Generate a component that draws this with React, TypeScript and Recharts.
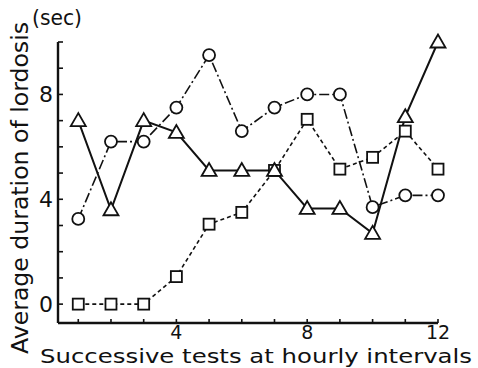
import React from 'react';
import { LineChart, Line, XAxis, YAxis, Label } from 'recharts';

const tests = [1, 2, 3, 4, 5, 6, 7, 8, 9, 10, 11, 12];
const triangleSeries = [7.0, 3.6, 7.0, 6.55, 5.1, 5.1, 5.1, 3.65, 3.65, 2.7, 7.15, 10.0];
const circleSeries = [3.25, 6.2, 6.2, 7.5, 9.5, 6.6, 7.5, 8.0, 8.0, 3.7, 4.15, 4.15];
const squareSeries = [0, 0, 0, 1.05, 3.05, 3.5, 5.1, 7.05, 5.15, 5.6, 6.6, 5.15];

const xTicks = [1, 2, 3, 4, 5, 6, 7, 8, 9, 10, 11, 12];
const xTickLabels = [4, 8, 12];
const yTicks = [0, 1, 2, 3, 4, 5, 6, 7, 8, 9, 10];
const yTickLabels = [0, 4, 8];

const xTitle = 'Successive tests at hourly intervals';
const yTitle = 'Average duration of lordosis';
const unitLabel = '(sec)';

const data = tests.map((t, i) => ({
  t,
  tri: triangleSeries[i],
  circ: circleSeries[i],
  sq: squareSeries[i],
}));

const FONT = 'DejaVu Sans';
const INK = '#111';

const TriangleDot = (props: any) => {
  const { cx, cy } = props;
  if (cx == null || cy == null) return null;
  const s = 7.5;
  return (
    <polygon
      key={`tri-${cx}`}
      points={`${cx},${cy - s} ${cx - s},${cy + 5.5} ${cx + s},${cy + 5.5}`}
      fill="#fff"
      stroke={INK}
      strokeWidth={1.8}
    />
  );
};

const CircleDot = (props: any) => {
  const { cx, cy } = props;
  if (cx == null || cy == null) return null;
  return <circle key={`c-${cx}`} cx={cx} cy={cy} r={6} fill="#fff" stroke={INK} strokeWidth={1.8} />;
};

const SquareDot = (props: any) => {
  const { cx, cy } = props;
  if (cx == null || cy == null) return null;
  return (
    <rect key={`s-${cx}`} x={cx - 5.5} y={cy - 5.5} width={11} height={11} fill="#fff" stroke={INK} strokeWidth={1.8} />
  );
};

const XTick = (props: any) => {
  const { x, y, payload } = props;
  const v = payload.value;
  return (
    <g>
      <line x1={x} y1={y} x2={x} y2={y - 4} stroke={INK} strokeWidth={1.6} />
      {xTickLabels.includes(v) && (
        <text x={x} y={y + 16} textAnchor="middle" fontFamily={FONT} fontSize={19} fill={INK}>
          {v}
        </text>
      )}
    </g>
  );
};

const YTick = (props: any) => {
  const { x, y, payload } = props;
  const v = payload.value;
  return (
    <g>
      <line x1={x} y1={y} x2={x + 5} y2={y} stroke={INK} strokeWidth={1.6} />
      {yTickLabels.includes(v) && (
        <text x={x - 12} y={y + 8} textAnchor="middle" fontFamily={FONT} fontSize={22} fill={INK}>
          {v}
        </text>
      )}
    </g>
  );
};

const XTitle = () => (
  <text
    x={40}
    y={363}
    fontFamily={FONT}
    fontSize={20}
    fill={INK}
    textLength={432}
    lengthAdjust="spacingAndGlyphs"
  >
    {xTitle}
  </text>
);

const YTitle = () => (
  <g>
    <text
      x={0}
      y={0}
      transform="translate(28, 188) rotate(-90)"
      fontFamily={FONT}
      fontSize={23}
      fill={INK}
      textAnchor="middle"
      textLength={332}
      lengthAdjust="spacingAndGlyphs"
    >
      {yTitle}
    </text>
    <text x={32} y={25} fontFamily={FONT} fontSize={21} fill={INK} textLength={50} lengthAdjust="spacingAndGlyphs">
      {unitLabel}
    </text>
  </g>
);

export default function App() {
  return (
    <div style={{ position: 'absolute', left: 0, top: 0, width: 478, height: 368, background: '#fff' }}>
      <LineChart width={478} height={368} data={data} margin={{ top: 42, right: 40, bottom: 44, left: 57 }}>
        <XAxis
          dataKey="t"
          type="number"
          domain={[0.38, 12]}
          ticks={xTicks}
          height={1}
          tickSize={0}
          tickMargin={0}
          tick={<XTick />}
          axisLine={{ stroke: INK, strokeWidth: 2.4 }}
          interval={0}
        >
          <Label content={<XTitle />} />
        </XAxis>
        <YAxis
          type="number"
          domain={[-0.72, 10]}
          ticks={yTicks}
          width={1}
          tickSize={0}
          tickMargin={0}
          tick={<YTick />}
          axisLine={{ stroke: INK, strokeWidth: 2.4 }}
          interval={0}
        >
          <Label content={<YTitle />} />
        </YAxis>
        <Line
          dataKey="sq"
          stroke={INK}
          strokeWidth={1.6}
          strokeDasharray="4 3"
          dot={<SquareDot />}
          isAnimationActive={false}
        />
        <Line
          dataKey="circ"
          stroke={INK}
          strokeWidth={1.6}
          strokeDasharray="10 3 2 3"
          dot={<CircleDot />}
          isAnimationActive={false}
        />
        <Line
          dataKey="tri"
          stroke={INK}
          strokeWidth={2}
          dot={<TriangleDot />}
          isAnimationActive={false}
        />
      </LineChart>
    </div>
  );
}
